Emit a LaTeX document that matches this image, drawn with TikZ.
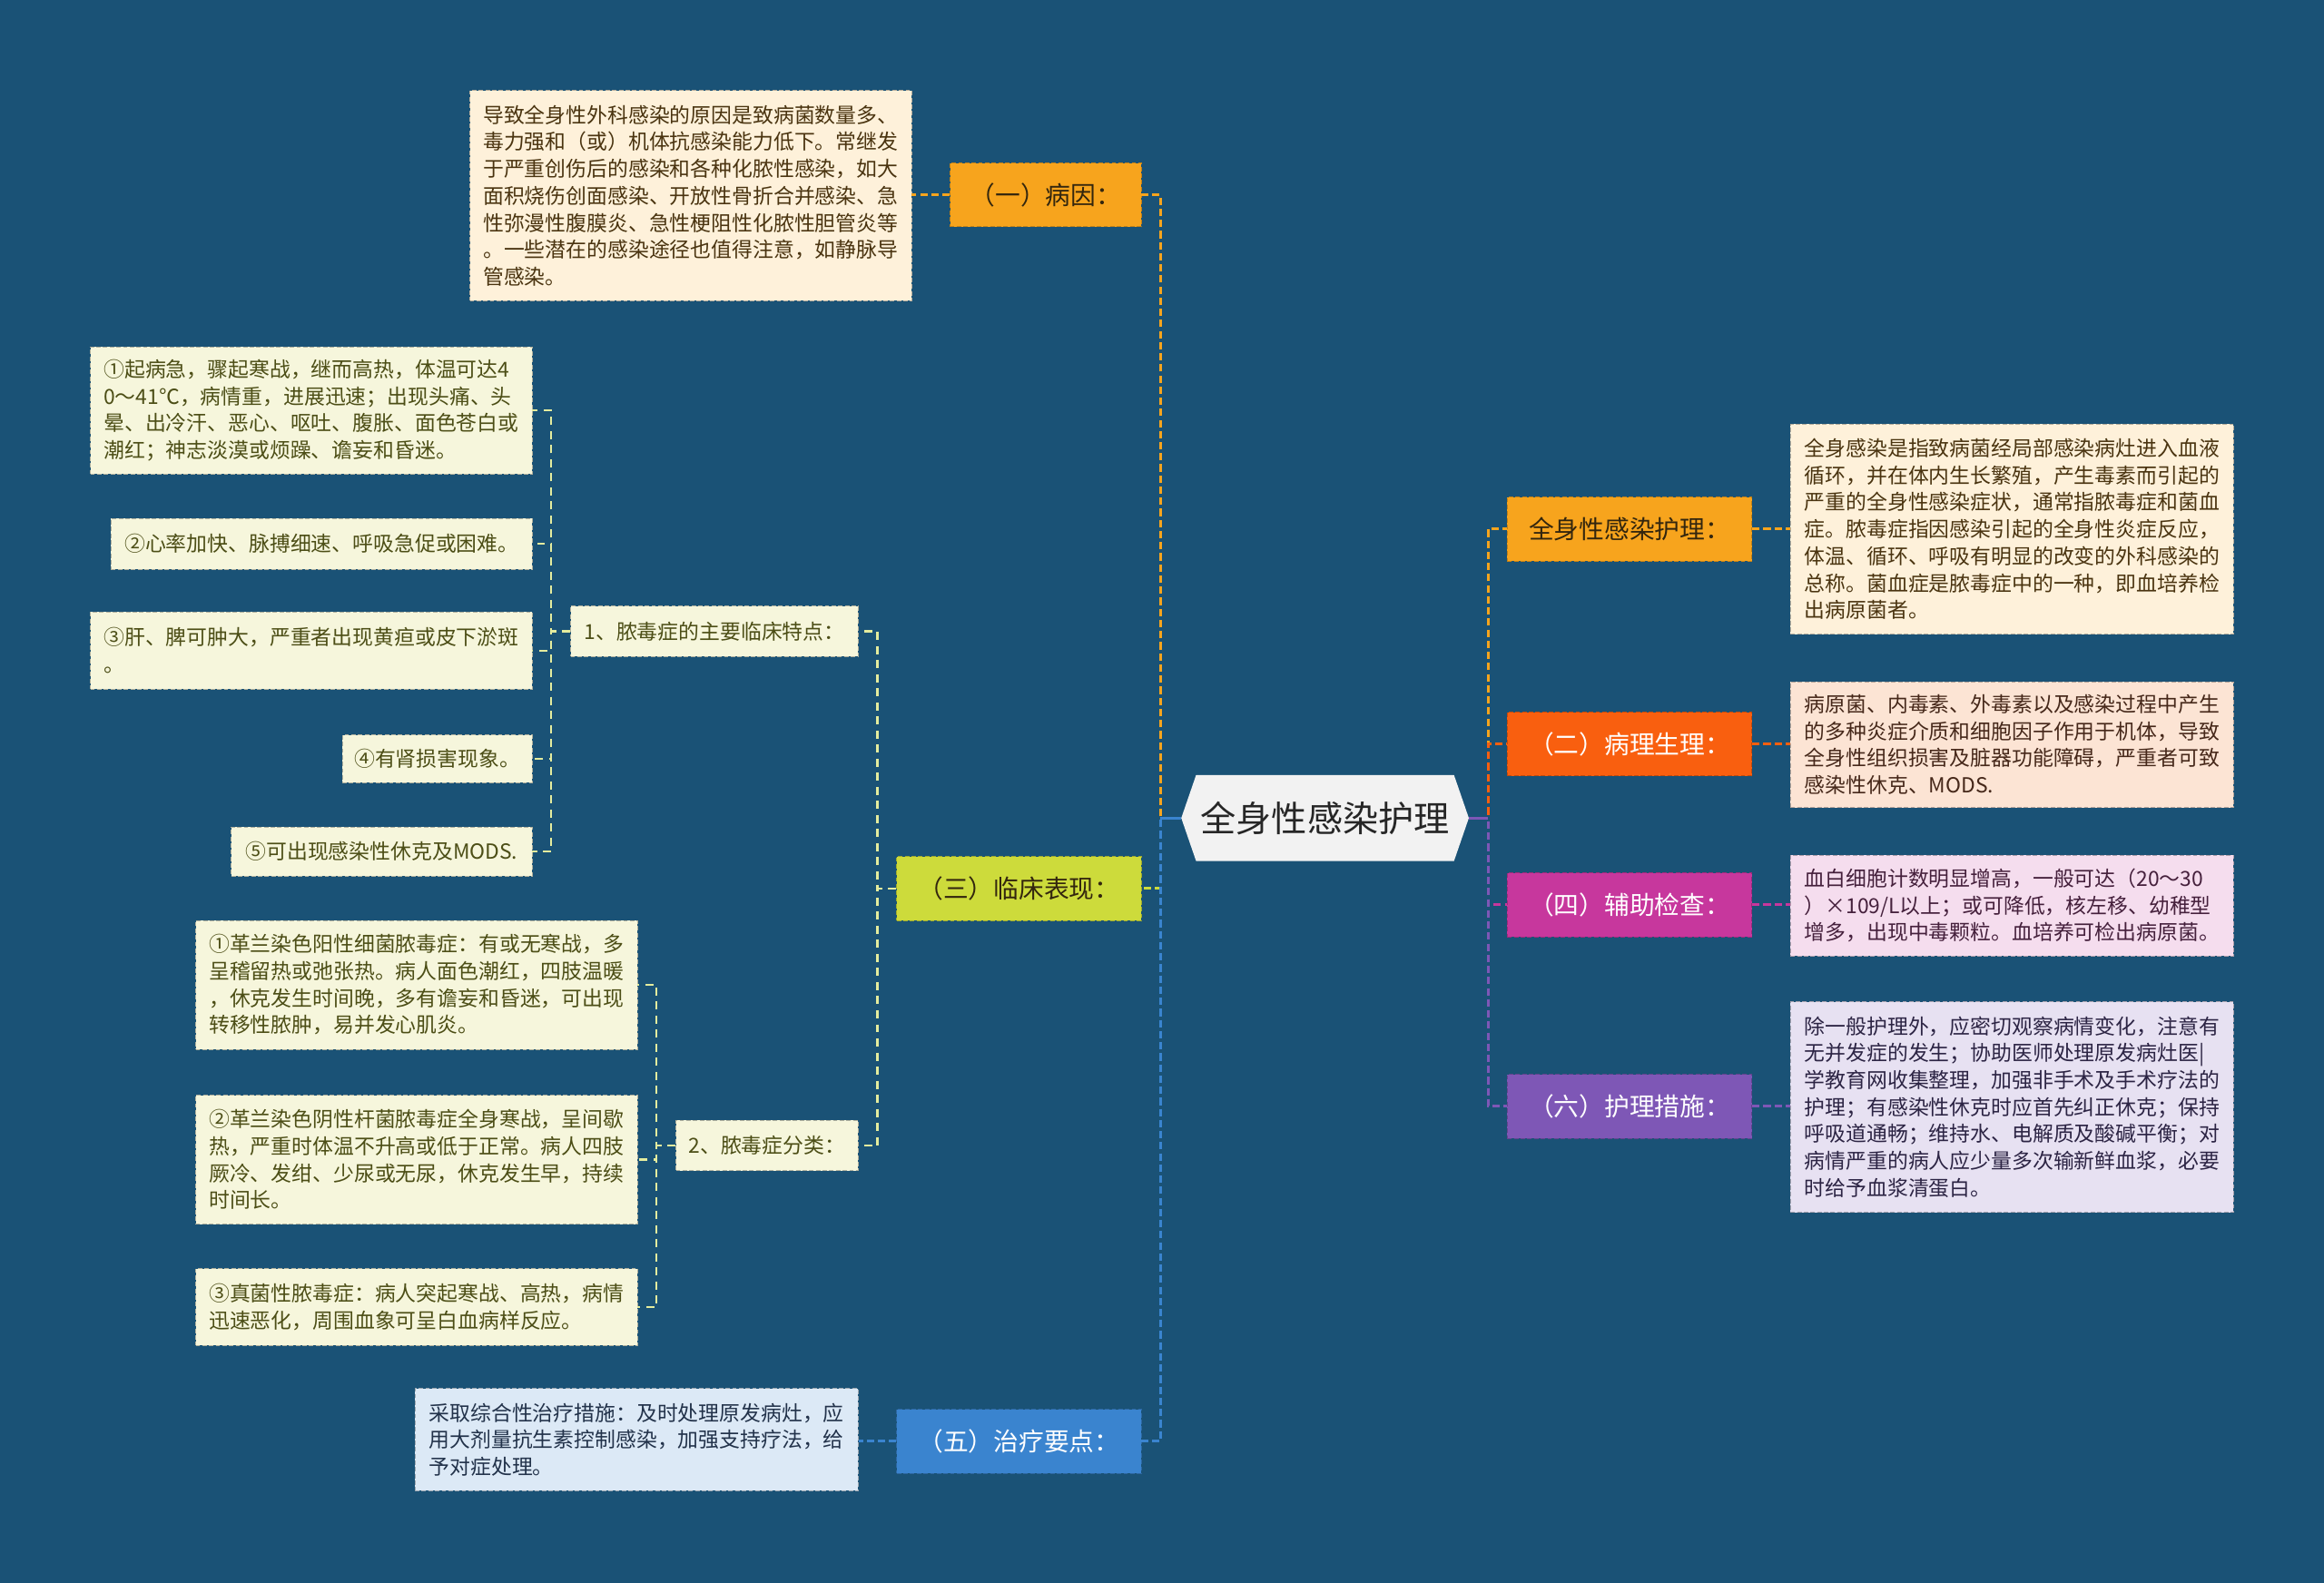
\documentclass[tikz,border=0pt]{standalone}
\usepackage{fontspec}
\setmainfont{Noto Sans CJK SC}
\usetikzlibrary{shapes.symbols}
\definecolor{bg}{HTML}{1A5276}
\definecolor{cOr}{HTML}{F7A41D}
\definecolor{cLime}{HTML}{CDDB3B}
\definecolor{cPale}{HTML}{E4EC9E}
\definecolor{cBlue}{HTML}{3A84CF}
\definecolor{cRed}{HTML}{F95F0F}
\definecolor{cMag}{HTML}{C7379D}
\definecolor{cPur}{HTML}{7E57B6}
\definecolor{fCream}{HTML}{FEF1DA}
\definecolor{fYel}{HTML}{F6F6DC}
\definecolor{fBlue}{HTML}{DCE9F6}
\definecolor{fPeach}{HTML}{FCE4D4}
\definecolor{fPink}{HTML}{F5DDEE}
\definecolor{fLav}{HTML}{E7E1F2}
\definecolor{tBrown}{HTML}{4A3410}
\definecolor{tOlive}{HTML}{4C4E16}
\definecolor{tNavy}{HTML}{22324A}
\definecolor{tRedB}{HTML}{46281A}
\definecolor{tPurD}{HTML}{45203C}
\definecolor{tLavD}{HTML}{2C2444}
\definecolor{tDark}{HTML}{33260E}
\begin{document}
\begin{tikzpicture}[x=1pt,y=-1pt,
  lone/.style n args={3}{draw=#1!78!black, dash pattern=on 3pt off 1.5pt, fill=#1, text=#2,
    minimum width=#3, minimum height=43, inner sep=0pt, font=\fontsize{17}{20}\selectfont},
  tbox/.style n args={4}{draw=#1!72!black, dash pattern=on 3pt off 1.5pt, fill=#1, text=#2,
    minimum width=#3, minimum height=#4, inner sep=0pt, align=left, font=\fontsize{14}{18.2}\selectfont},
  conn/.style={draw=#1, line width=2pt, dash pattern=on 5pt off 2.5pt},
  connb/.style={draw=#1, line width=1.4pt, dash pattern=on 5.5pt off 4pt}]
\useasboundingbox (0,0) rectangle (1568,1068);
\fill[bg] (0,0) rectangle (1568,1068);

% centre
\node[shape=signal, signal to=east and west, signal pointer angle=142, fill=black!5, text=black!85,
  minimum width=194, minimum height=58, inner sep=0pt, font=\fontsize{24}{28}\selectfont] (c) at (894,552) {全身性感染护理};

% spine coordinates
\coordinate (spL) at (783,552);
\coordinate (spR) at (1004,552);

% left level 1
\node[lone={cOr}{tDark}{129}] (b1) at (705.5,131.5) {（一）病因：};
\node[lone={cLime}{tDark}{165}] (b3) at (687.5,599.5) {（三）临床表现：};
\node[lone={cBlue}{white}{165}] (b5) at (687.5,972.5) {（五）治疗要点：};

% right level 1
\node[lone={cOr}{tDark}{165}] (r0) at (1099.5,357) {全身性感染护理：};
\node[lone={cRed}{white}{165}] (r2) at (1099.5,502) {（二）病理生理：};
\node[lone={cMag}{white}{165}] (r4) at (1099.5,610.5) {（四）辅助检查：};
\node[lone={cPur}{white}{165}] (r6) at (1099.5,746.5) {（六）护理措施：};

% description boxes
\node[tbox={fCream}{tBrown}{298}{142}] (t1) at (466,132) {导致全身性外科感染的原因是致病菌数量多、\\毒力强和（或）机体抗感染能力低下。常继发\\于严重创伤后的感染和各种化脓性感染，如大\\面积烧伤创面感染、开放性骨折合并感染、急\\性弥漫性腹膜炎、急性梗阻性化脓性胆管炎等\\。一些潜在的感染途径也值得注意，如静脉导\\管感染。};
\node[tbox={fBlue}{tNavy}{299}{69}] (t5) at (429.5,971.5) {采取综合性治疗措施：及时处理原发病灶，应\\用大剂量抗生素控制感染，加强支持疗法，给\\予对症处理。};
\node[tbox={fCream}{tBrown}{299}{142}] (u0) at (1357.5,357) {全身感染是指致病菌经局部感染病灶进入血液\\循环，并在体内生长繁殖，产生毒素而引起的\\严重的全身性感染症状，通常指脓毒症和菌血\\症。脓毒症指因感染引起的全身性炎症反应，\\体温、循环、呼吸有明显的改变的外科感染的\\总称。菌血症是脓毒症中的一种，即血培养检\\出病原菌者。};
\node[tbox={fPeach}{tRedB}{299}{85}] (u2) at (1357.5,502.5) {病原菌、内毒素、外毒素以及感染过程中产生\\的多种炎症介质和细胞因子作用于机体，导致\\全身性组织损害及脏器功能障碍，严重者可致\\感染性休克、MODS.};
\node[tbox={fPink}{tPurD}{299}{68}] (u4) at (1357.5,611) {血白细胞计数明显增高，一般可达（20～30\\）×109/L以上；或可降低，核左移、幼稚型\\增多，出现中毒颗粒。血培养可检出病原菌。};
\node[tbox={fLav}{tLavD}{299}{142}] (u6) at (1357.5,747) {除一般护理外，应密切观察病情变化，注意有\\无并发症的发生；协助医师处理原发病灶医|\\学教育网收集整理，加强非手术及手术疗法的\\护理；有感染性休克时应首先纠正休克；保持\\呼吸道通畅；维持水、电解质及酸碱平衡；对\\病情严重的病人应少量多次输新鲜血浆，必要\\时给予血浆清蛋白。};

% level 2
\node[tbox={fYel}{tOlive}{194}{34}] (s1) at (482,426) {1、脓毒症的主要临床特点：};
\node[tbox={fYel}{tOlive}{123}{34}] (s2) at (517.5,773) {2、脓毒症分类：};

% level 3 under s1
\node[tbox={fYel}{tOlive}{298}{86}] (a1) at (210,277) {①起病急，骤起寒战，继而高热，体温可达4\\0～41℃，病情重，进展迅速；出现头痛、头\\晕、出冷汗、恶心、呕吐、腹胀、面色苍白或\\潮红；神志淡漠或烦躁、谵妄和昏迷。};
\node[tbox={fYel}{tOlive}{284}{34}] (a2) at (217,367) {②心率加快、脉搏细速、呼吸急促或困难。};
\node[tbox={fYel}{tOlive}{298}{52}] (a3) at (210,439) {③肝、脾可肿大，严重者出现黄疸或皮下淤斑\\。};
\node[tbox={fYel}{tOlive}{128}{32}] (a4) at (295,512) {④有肾损害现象。};
\node[tbox={fYel}{tOlive}{203}{33}] (a5) at (257.5,574.5) {⑤可出现感染性休克及MODS.};

% level 3 under s2
\node[tbox={fYel}{tOlive}{298}{87}] (d1) at (281,664.5) {①革兰染色阳性细菌脓毒症：有或无寒战，多\\呈稽留热或弛张热。病人面色潮红，四肢温暖\\，休克发生时间晚，多有谵妄和昏迷，可出现\\转移性脓肿，易并发心肌炎。};
\node[tbox={fYel}{tOlive}{298}{87}] (d2) at (281,782.5) {②革兰染色阴性杆菌脓毒症全身寒战，呈间歇\\热，严重时体温不升高或低于正常。病人四肢\\厥冷、发绀、少尿或无尿，休克发生早，持续\\时间长。};
\node[tbox={fYel}{tOlive}{298}{52}] (d3) at (281,882) {③真菌性脓毒症：病人突起寒战、高热，病情\\迅速恶化，周围血象可呈白血病样反应。};

% connectors: centre to level 1 (left)
\draw[conn=cOr] (c.west) -- (spL) |- (b1.east);
\draw[conn=cLime] (c.west) -- (spL) |- (b3.east);
\draw[conn=cBlue] (c.west) -- (spL) |- (b5.east);
\draw[cBlue, line width=2pt] (c.west) -- (spL);
% right
\draw[conn=cOr] (c.east) -- (spR) |- (r0.west);
\draw[conn=cRed] (c.east) -- (spR) |- (r2.west);
\draw[conn=cMag] (c.east) -- (spR) |- (r4.west);
\draw[conn=cPur] (c.east) -- (spR) |- (r6.west);
\draw[cPur, line width=2pt] (c.east) -- (spR);

% level 1 to descriptions
\draw[conn=cOr] (b1.west) -- (b1.west -| t1.east);
\draw[conn=cBlue] (b5.west) -- (b5.west -| t5.east);
\draw[conn=cOr] (r0.east) -- (r0.east -| u0.west);
\draw[conn=cRed] (r2.east) -- (r2.east -| u2.west);
\draw[conn=cMag] (r4.east) -- (r4.east -| u4.west);
\draw[conn=cPur] (r6.east) -- (r6.east -| u6.west);

% clinical branch
\coordinate (sp3) at (592,599.5);
\draw[connb=cPale] (b3.west) -- (sp3) |- (s1.east);
\draw[connb=cPale] (b3.west) -- (sp3) |- (s2.east);
\coordinate (sp1) at (372,426);
\foreach \n in {a1,a2,a3,a4,a5} \draw[connb=cPale] (s1.west) -- (sp1) |- (\n.east);
\coordinate (sp2) at (443,773);
\foreach \n in {d1,d2,d3} \draw[connb=cPale] (s2.west) -- (sp2) |- (\n.east);
\end{tikzpicture}
\end{document}
